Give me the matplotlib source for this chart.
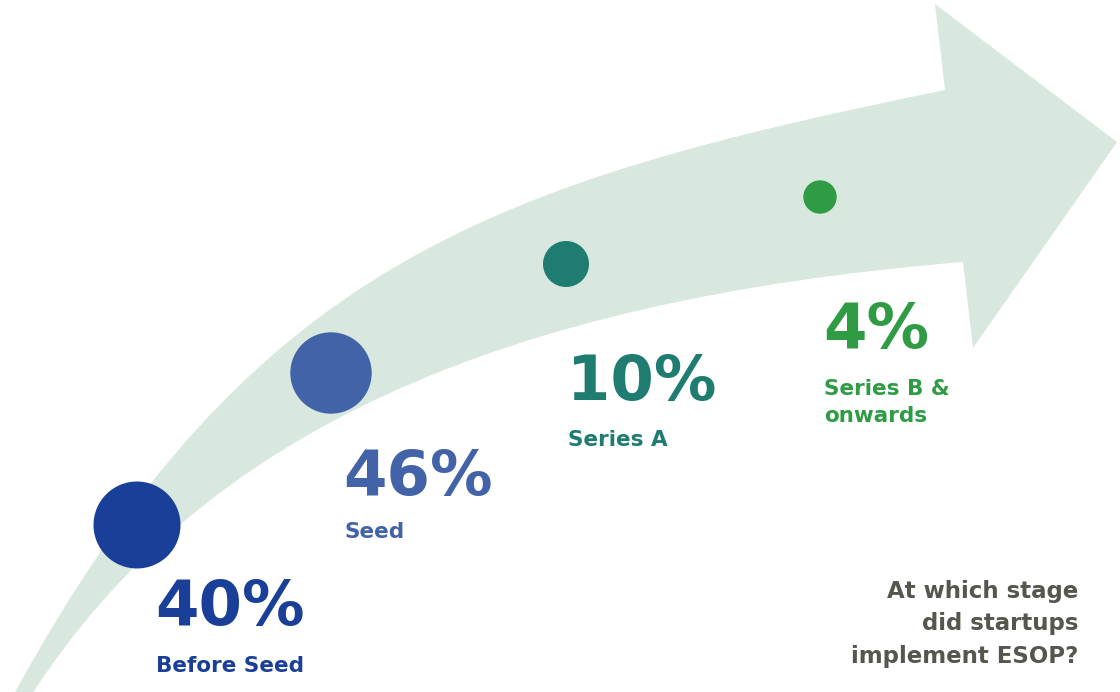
import matplotlib.pyplot as plt
from matplotlib.patches import Circle, PathPatch
from matplotlib.path import Path

# ESOP adoption by funding stage
stages = ["Before Seed", "Seed", "Series A", "Series B &\nonwards"]
shares = [40, 46, 10, 4]
question = "At which stage\ndid startups\nimplement ESOP?"

colors = ["#1a3f98", "#4263a8", "#1e7c70", "#2f9c45"]
band_color = "#d8e8df"

# dot centres / radii along the arrow, and label baselines (pixels)
dot_xy = [(137, 525), (331, 373), (566, 264), (820, 197)]
dot_r = [43.5, 40.7, 23, 16.7]
label_xy = [(155, 625), (343, 495), (567, 400), (823, 348)]
name_gap = [47, 43, 46, 46]
name_line = 28  # px between lines of a wrapped stage name

# curved arrow: outer edge, arrow head, inner edge back to the tail
verts = [(14, 694), (250, 262), (495, 182), (945, 90),
         (935, 4), (1117, 142), (973, 348),
         (963, 262), (500, 300), (202, 432), (32, 694),
         (14, 694)]
codes = ([Path.MOVETO] + [Path.CURVE4] * 3 + [Path.LINETO] * 4
         + [Path.CURVE4] * 3 + [Path.CLOSEPOLY])

fig = plt.figure(figsize=(11.2, 6.92), dpi=100)
ax = fig.add_axes([0, 0, 1, 1])
ax.set_xlim(0, 1120)
ax.set_ylim(692, 0)
ax.axis("off")

ax.add_patch(PathPatch(Path(verts, codes), facecolor=band_color,
                       edgecolor="none", zorder=1))

for i in range(len(stages)):
    ax.add_patch(Circle(dot_xy[i], dot_r[i], facecolor=colors[i],
                        edgecolor="none", zorder=2))
    x, y = label_xy[i]
    ax.text(x, y, f"{shares[i]}%", color=colors[i], fontsize=45,
            fontweight="bold", ha="left", va="baseline", zorder=3)
    # baseline alignment uses the last line of a wrapped name
    extra = stages[i].count("\n") * name_line
    ax.text(x + 1, y + name_gap[i] + extra, stages[i], color=colors[i],
            fontsize=15.5, fontweight="bold", ha="left", va="baseline",
            linespacing=1.45, zorder=3)

ax.text(1078, 663, question, color="#56564f", fontsize=16.5,
        fontweight="bold", ha="right", va="baseline", linespacing=1.54)

fig.savefig("out.png", dpi=100, facecolor="white")
